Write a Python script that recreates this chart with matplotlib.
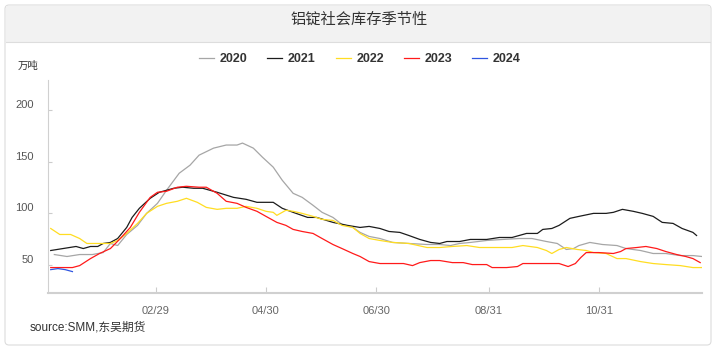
import matplotlib
matplotlib.use("Agg")
import matplotlib.pyplot as plt
import matplotlib.dates as mdates
from matplotlib.patches import FancyBboxPatch, Rectangle
from matplotlib.lines import Line2D
import pandas as pd
import numpy as np

plt.rcParams['font.family'] = ['Liberation Sans', 'Noto Sans CJK SC', 'DejaVu Sans']

title = "铝锭社会库存季节性"
unit = "万吨"
source = "source:SMM,东吴期货"
years = ["2020", "2021", "2022", "2023", "2024"]
colors = ["#a6a6a6", "#1c1c1c", "#ffdd22", "#ff1a1a", "#2f55e0"]

# day offsets from Jan 1 and values (万吨)
days_2020 = [3, 10, 17, 24, 30, 34, 38, 43, 49, 54, 60, 65, 72, 78, 83, 91, 98, 104, 107, 113,
             118, 124, 129, 135, 140, 146, 151, 157, 162, 168, 172, 177, 183, 190, 199, 209, 216,
             222, 227, 233, 242, 251, 260, 267, 275, 281, 286, 290, 293, 299, 306, 314, 319, 327,
             334, 341, 349, 356, 361]
vals_2020 = [60.2, 58.3, 60.2, 60.2, 62.1, 70.9, 68.9, 79.6, 88.4, 100, 109.7, 122.3, 138.8, 146.6,
             156.3, 163.1, 166.1, 166.1, 168, 163.1, 154.4, 144.7, 132, 119.4, 115.5, 107.8, 101,
             96.1, 89.3, 86.4, 81.6, 77.7, 75.7, 71.9, 70.9, 69.9, 69.9, 68.9, 70.9, 71.9, 73.8,
             74.8, 75.7, 75.7, 72.8, 70.9, 65.1, 66, 68.9, 71.9, 69.9, 68.9, 66, 64.1, 61.2, 61.2,
             59.2, 59.2, 58.3]

days_2021 = [1, 15, 19, 23, 27, 30, 34, 38, 43, 46, 50, 56, 61, 69, 74, 80, 85, 93, 102, 109,
             115, 124, 129, 135, 143, 148, 157, 165, 172, 177, 183, 188, 194, 199, 205, 211, 216,
             220, 227, 233, 242, 249, 256, 264, 270, 273, 278, 282, 288, 293, 301, 308, 312, 317,
             323, 328, 334, 339, 345, 350, 356, 358]
vals_2021 = [64.1, 68, 66, 68, 68, 70.9, 71.9, 75.7, 86.4, 96.1, 104.9, 114.6, 120.4, 124.3, 125.3,
             124.3, 124.3, 120.4, 115.5, 113.6, 110.7, 110.7, 104.9, 101, 96.1, 96.1, 91.3, 88.4,
             86.4, 87.4, 85.4, 82.5, 81.6, 78.6, 74.8, 71.9, 70.9, 72.8, 72.8, 74.8, 74.8, 76.7,
             76.7, 80.6, 80.6, 84.5, 85.4, 88.4, 95.2, 97.1, 100, 100, 101, 103.9, 102, 100, 97.1,
             91.3, 90.3, 85.4, 81.6, 78.6]

days_2022 = [1, 6, 12, 17, 21, 27, 34, 38, 43, 49, 54, 60, 65, 71, 76, 82, 87, 93, 98, 104, 109,
             115, 120, 124, 126, 131, 135, 140, 146, 151, 157, 162, 168, 172, 177, 183, 190, 199,
             209, 216, 223, 231, 238, 249, 256, 262, 270, 275, 278, 282, 286, 292, 297, 301, 308,
             314, 319, 327, 334, 341, 349, 356, 361]
vals_2022 = [85.4, 79.6, 79.6, 75.7, 70.9, 70.9, 70.9, 73.8, 80.6, 90.3, 100, 106.8, 109.7, 111.7,
             114.6, 110.7, 105.8, 103.9, 104.9, 104.9, 106.8, 104.9, 102, 101, 98.1, 103, 102, 100,
             97.1, 94.2, 93.2, 88.4, 86.4, 80.6, 75.7, 73.8, 71.9, 70.9, 67, 67, 68, 68.9, 67, 67,
             67, 68.9, 67, 64.1, 61.2, 65.1, 67, 65.1, 64.1, 62.1, 61.2, 56.3, 56.3, 53.4, 51.5,
             50.5, 49.5, 47.6, 47.6]

days_2023 = [1, 6, 13, 17, 23, 28, 34, 39, 45, 50, 56, 60, 65, 71, 76, 83, 87, 93, 98, 104, 109,
             115, 120, 126, 131, 135, 140, 146, 151, 157, 162, 168, 172, 177, 183, 190, 196, 201,
             205, 211, 216, 223, 229, 234, 242, 245, 253, 259, 262, 270, 277, 282, 287, 291, 294,
             297, 304, 312, 316, 319, 325, 330, 336, 341, 347, 352, 356, 360]
vals_2023 = [47.6, 47.6, 47.6, 49.5, 56.3, 61.2, 66, 74.8, 86.4, 101, 115.5, 120.4, 121.4, 125.3,
             126.2, 125.3, 125.3, 119.4, 111.7, 109.7, 105.8, 102, 97.1, 91.3, 88.4, 84.5, 82.5,
             80.6, 75.7, 69.9, 66, 61.2, 58.3, 53.4, 51.5, 51.5, 51.5, 49.5, 52.4, 54.4, 54.4,
             52.4, 52.4, 50.5, 50.5, 47.6, 47.6, 48.6, 51.5, 51.5, 51.5, 51.5, 48.6, 51.5, 57.3,
             62.1, 62.1, 61.2, 63.1, 66, 67, 68, 66, 63.1, 60.2, 58.3, 56.3, 52.4]

days_2024 = [1, 5, 9, 13]
vals_2024 = [45.6, 46.6, 45.6, 43.7]

series_days = [days_2020, days_2021, days_2022, days_2023, days_2024]
series_vals = [vals_2020, vals_2021, vals_2022, vals_2023, vals_2024]

yticks = [50, 100, 150, 200]
xtick_dates = ["2024-02-29", "2024-04-30", "2024-06-30", "2024-08-31", "2024-10-31"]

W, H, DPI = 717, 352, 100
fig = plt.figure(figsize=(W / DPI, H / DPI), dpi=DPI)
fig.patch.set_facecolor("white")

def px(x, y):
    return x / DPI, (H - y) / DPI

# card
cx0, cy0 = px(5, 345)
cx1, cy1 = px(711, 5)
card = FancyBboxPatch((cx0, cy0), cx1 - cx0, cy1 - cy0,
                      boxstyle="round,pad=0,rounding_size=0.04",
                      transform=fig.dpi_scale_trans, facecolor="white",
                      edgecolor="#dcdcdc", linewidth=0.8, zorder=-3)
fig.patches.append(card)
hx0, hy0 = px(6, 42)
hx1, hy1 = px(710, 6)
header = Rectangle((hx0, hy0), hx1 - hx0, hy1 - hy0, transform=fig.dpi_scale_trans,
                   facecolor="#f2f2f2", edgecolor="none", zorder=-2)
fig.patches.append(header)
fig.lines.append(Line2D([hx0, hx1], [hy0, hy0], transform=fig.dpi_scale_trans,
                        color="#dddddd", linewidth=0.8, zorder=-1))

fig.text(359 / W, 1 - 19 / H, title, ha="center", va="center", fontsize=11,
         color="#333333", family=["Noto Sans CJK SC", "DejaVu Sans"])
fig.text(18 / W, 1 - 66 / H, unit, ha="left", va="center", fontsize=7.5,
         color="#333333", family=["Noto Sans CJK SC", "DejaVu Sans"])
fig.text(30 / W, 1 - 327 / H, source, ha="left", va="center", fontsize=8.5,
         color="#333333", family=["Liberation Sans", "Noto Sans CJK SC", "DejaVu Sans"])

ax_l, ax_r, ax_t, ax_b = 48, 702, 80, 293
ax = fig.add_axes([ax_l / W, 1 - ax_b / H, (ax_r - ax_l) / W, (ax_b - ax_t) / H])
ax.set_facecolor("none")
ax.set_zorder(2)

base = pd.Timestamp("2024-01-01")
handles = []
for yr, d, v, c in zip(years, series_days, series_vals, colors):
    dates = base + pd.to_timedelta(d, unit="D")
    h, = ax.plot(dates, v, color=c, linewidth=0.9, label=yr)
    handles.append(h)

ax.set_xlim(base - pd.Timedelta(days=0.5), base + pd.Timedelta(days=361))
ax.set_ylim(23, 229)

ax.set_xticks(pd.to_datetime(xtick_dates))
ax.xaxis.set_major_formatter(mdates.DateFormatter("%m/%d"))
ax.set_yticks(yticks)
ax.set_yticklabels([])
for v in yticks:
    ax.annotate(str(v), xy=(0, v), xycoords=("axes fraction", "data"),
                xytext=(-14, 5), textcoords="offset pixels", ha="right", va="center",
                fontsize=8, color="#555555")

ax.tick_params(axis="x", direction="in", length=4, color="#cccccc", pad=9,
               labelsize=8, labelcolor="#666666")
ax.tick_params(axis="y", direction="in", length=3, color="#cccccc")

for s in ["top", "right"]:
    ax.spines[s].set_visible(False)
ax.spines["left"].set_color("#d0d0d0")
ax.spines["left"].set_linewidth(0.8)
ax.spines["bottom"].set_color("#d0d0d0")
ax.spines["bottom"].set_linewidth(1.5)

leg = fig.legend(handles=handles, labels=years, loc="center", ncol=5,
                 bbox_to_anchor=(360 / W, 1 - 59 / H), frameon=False,
                 prop={"weight": "bold", "size": 9, "family": "Liberation Sans"},
                 handlelength=1.2, handletextpad=0.45, columnspacing=1.6)
for t in leg.get_texts():
    t.set_color("#333333")

fig.savefig("out.png", dpi=DPI)
